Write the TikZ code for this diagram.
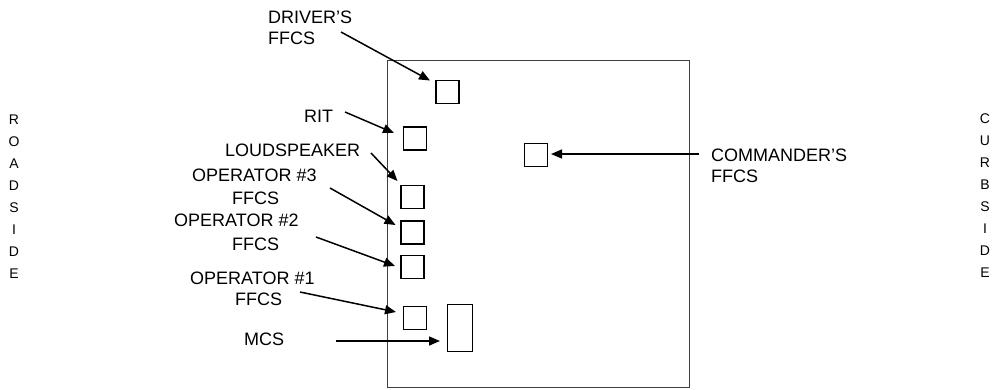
\documentclass[tikz,border=0pt]{standalone}
\usepackage{fontspec}
\setmainfont{Liberation Sans}
\usetikzlibrary{arrows.meta}
\tikzset{
  lbl/.style={anchor=base west, inner sep=0pt, font=\fontsize{18}{21}\selectfont},
  lblc/.style={anchor=base, inner sep=0pt, font=\fontsize{18}{21}\selectfont},
  vlet/.style={anchor=base, inner sep=0pt, font=\fontsize{14}{16}\selectfont},
  sbox/.style={draw, line width=1.4pt, minimum width=23pt, minimum height=23pt, inner sep=0pt},
  ptr/.style={line width=1.5pt, -{Triangle[length=11pt,width=9pt]}},
}
\begin{document}
\begin{tikzpicture}[x=1pt,y=-1pt]
\useasboundingbox (0,0) rectangle (998,389);
% outline of vehicle
\draw[line width=1pt, black!75] (387,60) rectangle (689,387);
% boxes
\node[sbox] (drv) at (447.5,91.7) {};
\node[sbox] (rit) at (414.7,138.3) {};
\node[sbox] (lsp) at (412.5,196.7) {};
\node[sbox] (op3) at (412.5,232.5) {};
\node[sbox] (op2) at (412.5,267) {};
\node[sbox] (op1) at (414.7,318) {};
\node[sbox, minimum width=25pt, minimum height=47pt] (mcs) at (460,328) {};
\node[sbox] (cmd) at (536,155) {};
% labels
\node[lbl] (tdrv1) at (268,23) {DRIVER’S};
\node[lbl] (tdrv2) at (268,44) {FFCS};
\node[lbl] (trit) at (304,122) {RIT};
\node[lbl] (tlsp) at (225,156) {LOUDSPEAKER};
\node[lbl] (top3a) at (192,181) {OPERATOR \#3};
\node[lbl] (top3b) at (232,204) {FFCS};
\node[lbl] (top2a) at (174,226) {OPERATOR \#2};
\node[lbl] (top2b) at (232,250) {FFCS};
\node[lbl] (top1a) at (190,284) {OPERATOR \#1};
\node[lbl] (top1b) at (235,305) {FFCS};
\node[lbl] (tmcs) at (244,345) {MCS};
\node[lbl] (tcmd1) at (711,161) {COMMANDER’S};
\node[lbl] (tcmd2) at (711,182) {FFCS};
% side labels
\foreach \l [count=\i from 0] in {R,O,A,D,S,I,D,E}
  \node[vlet] (rs\i) at (14,124+22*\i) {\l};
\foreach \l [count=\i from 0] in {C,U,R,B,S,I,D,E}
  \node[vlet] (cs\i) at (985,123+22*\i) {\l};
% arrow end points
\coordinate (sdrv) at (341,32);  \coordinate (edrv) at (430,80.5);
\coordinate (srit) at (345,112); \coordinate (erit) at (394,133);
\coordinate (slsp) at (371,153); \coordinate (elsp) at (397.5,181);
\coordinate (sop3) at (330,188); \coordinate (eop3) at (395.5,225);
\coordinate (sop2) at (316,237); \coordinate (eop2) at (395,266);
\coordinate (sop1) at (300,292); \coordinate (eop1) at (396,312);
\coordinate (smcs) at (336,341); \coordinate (emcs) at (440,341);
\coordinate (scmd) at (699,154); \coordinate (ecmd) at (551,154);
\draw[ptr] (sdrv) -- (edrv);
\draw[ptr] (srit) -- (erit);
\draw[ptr] (slsp) -- (elsp);
\draw[ptr] (sop3) -- (eop3);
\draw[ptr] (sop2) -- (eop2);
\draw[ptr] (sop1) -- (eop1);
\draw[ptr] (smcs) -- (emcs);
\draw[ptr] (scmd) -- (ecmd);
\end{tikzpicture}
\end{document}
